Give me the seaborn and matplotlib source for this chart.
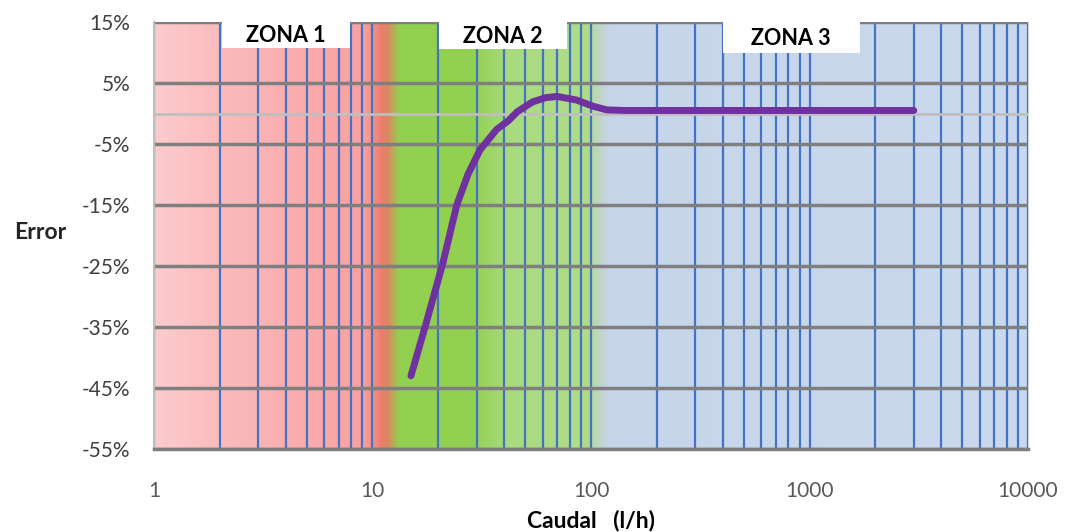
import numpy as np
import pandas as pd
import matplotlib
matplotlib.use("Agg")
import matplotlib.pyplot as plt
import seaborn as sns
from matplotlib.ticker import LogLocator, FixedLocator, NullFormatter, FuncFormatter
from matplotlib.colors import to_rgb
from matplotlib.patches import Rectangle

# ---- data ----
caudal = [15, 17.4, 21, 24.3, 27.4, 31, 37, 41.8, 46, 54, 62, 70, 86, 102, 118, 141, 3000]
error_pct = [-43, -35, -24.5, -15, -9.9, -6.0, -2.6, -1.2, 0.3, 1.9, 2.6, 2.8, 2.2, 1.2, 0.6, 0.5, 0.5]
x_ticks = [1, 10, 100, 1000, 10000]
x_tick_labels = ["1", "10", "100", "1000", "10000"]
y_ticks = [15, 5, -5, -15, -25, -35, -45, -55]
zone_labels = ["ZONA 1", "ZONA 2", "ZONA 3"]
zone_ranges = [(2.05, 7.9), (20.1, 78), (400, 1700)]

sns.set_style("white")
plt.rcParams['font.family'] = ['Lato', 'DejaVu Sans']

fig = plt.figure(figsize=(10.67, 5.32), dpi=100)
ax = fig.add_axes([0.1443, 0.156, 0.8192, 0.8026])

# background gradient (in axes fraction, log10(x)/4)
stops = [
    (0.00, "#FCCCCE"), (0.30, "#FBBBBD"), (0.95, "#F9A1A1"), (1.00, "#F29189"),
    (1.04, "#EC7D6C"), (1.07, "#D98A62"), (1.12, "#92D050"), (1.45, "#92D050"),
    (1.62, "#A8DA7E"), (1.99, "#B0DC8A"), (2.03, "#BFD6C2"), (2.08, "#C6D5EA"),
    (4.00, "#CBD9EE"),
]
u = np.linspace(0, 4, 2000)
su = [s[0] for s in stops]
cols = np.array([to_rgb(s[1]) for s in stops])
img = np.stack([np.interp(u, su, cols[:, k]) for k in range(3)], axis=-1)[None, :, :]
ax.imshow(img, extent=[0, 1, 0, 1], transform=ax.transAxes, aspect='auto', zorder=0.1, interpolation='bilinear')

df = pd.DataFrame({"Caudal": caudal, "Error": error_pct})
sns.lineplot(data=df, x="Caudal", y="Error", ax=ax, color="#7030A0", lw=5,
             solid_capstyle='round', solid_joinstyle='round', zorder=6, sort=False)

ax.set_xscale('log')
ax.set_xlim(1, 10000)
ax.set_ylim(-55, 15)

ax.set_axisbelow(True)
ax.yaxis.set_major_locator(FixedLocator(y_ticks))
ax.yaxis.set_major_formatter(FuncFormatter(lambda v, p: f"{int(v)}%"))
ax.xaxis.set_major_locator(FixedLocator(x_ticks))
ax.set_xticklabels(x_tick_labels)
ax.xaxis.set_minor_locator(LogLocator(base=10, subs=np.arange(2, 10)))
ax.xaxis.set_minor_formatter(NullFormatter())

ax.grid(axis='y', which='major', color='#7F7F7F', lw=2.5, zorder=1)
ax.grid(axis='x', which='both', color='#4472C4', lw=1.6, zorder=1)
ax.axhline(0, color='#BFBFBF', lw=2, zorder=1.5)

for s in ['top', 'right']:
    ax.spines[s].set_visible(False)
ax.spines['left'].set_color('#BFBFBF')
ax.spines['left'].set_linewidth(1.5)
ax.spines['bottom'].set_color('#7F7F7F')
ax.spines['bottom'].set_linewidth(2.5)

ax.tick_params(axis='y', which='major', length=4, width=2.5, color='#7F7F7F',
               labelsize=15, labelcolor='#404040', pad=13)
ax.tick_params(axis='x', which='both', length=0, labelsize=15, labelcolor='#595959', pad=23)

ax.set_xlabel("Caudal   (l/h)", fontsize=16.5, fontweight='bold', color='black', labelpad=6)
ax.set_ylabel("")
fig.text(0.038, 0.5625, "Error", fontsize=16.5, fontweight='bold', ha='center', va='center')

# zone label boxes
box_heights = [4.3, 4.4, 5.1]
for lab, (x0, x1), h in zip(zone_labels, zone_ranges, box_heights):
    ax.add_patch(Rectangle((x0, 15 - h), x1 - x0, h, facecolor='white', edgecolor='none', zorder=3))
    xc = np.sqrt(x0 * x1)
    ax.text(xc, 15 - h / 2 - 0.1, lab, fontsize=15.5, fontweight='bold', ha='center', va='center',
            color='black', zorder=4)

fig.savefig("out.png", dpi=100)
